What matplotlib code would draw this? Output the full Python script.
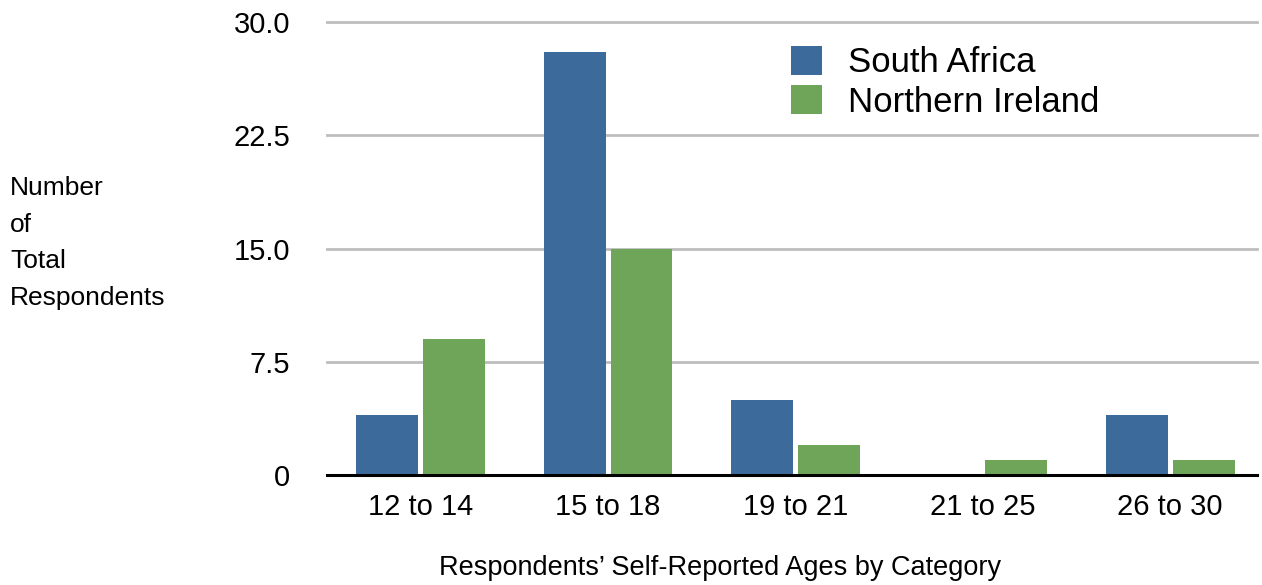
import numpy as np
import matplotlib.pyplot as plt
from matplotlib.ticker import FuncFormatter

plt.rcParams['font.family'] = ['Liberation Sans', 'DejaVu Sans']

age_groups = ['12 to 14', '15 to 18', '19 to 21', '21 to 25', '26 to 30']
south_africa = [4, 28, 5, 0, 4]
northern_ireland = [9, 15, 2, 1, 1]
y_ticks = [0, 7.5, 15.0, 22.5, 30.0]

BLUE = '#3b6a9b'
GREEN = '#6ea558'

fig = plt.figure(figsize=(12.62, 5.85), dpi=100)
ax = fig.add_axes([327 / 1262, 1 - 475 / 585, 930 / 1262, 453 / 585])

x = np.arange(len(age_groups))
width = 0.33
offset = 0.178
ax.bar(x - offset, south_africa, width, color=BLUE, label='South Africa', zorder=3)
ax.bar(x + offset, northern_ireland, width, color=GREEN, label='Northern Ireland', zorder=3)

# slot width is a touch wider than the axes / n_groups, last slot runs off the right edge
ax.set_xlim(-0.5, 4.463)
ax.set_ylim(0, 30)
ax.set_yticks(y_ticks)
ax.yaxis.set_major_formatter(FuncFormatter(lambda v, _: '0' if v == 0 else f'{v:.1f}'))
ax.set_xticks(x)
ax.set_xticklabels(age_groups)

for v in y_ticks[1:]:
    ax.axhline(v, color='#bdbdbd', linewidth=2, zorder=1, clip_on=False)

for side in ['top', 'right', 'left']:
    ax.spines[side].set_visible(False)
ax.spines['bottom'].set_linewidth(2.2)
ax.spines['bottom'].set_color('black')
ax.spines['bottom'].set_zorder(4)

ax.tick_params(axis='both', length=0, labelsize=21, colors='black')
ax.tick_params(axis='y', pad=26.5)
ax.tick_params(axis='x', pad=13)

fig.text(10 / 1262, 1 - 243 / 585, 'Number\nof\nTotal\nRespondents', fontsize=19,
         ha='left', va='center', linespacing=1.68)
fig.text(720 / 1262, 1 - 568 / 585, 'Respondents\u2019 Self-Reported Ages by Category',
         fontsize=19.5, ha='center', va='center')

ax.legend(loc='upper left', bbox_to_anchor=(450 / 930, 0.978), frameon=False,
          fontsize=25, handlelength=0.9, handleheight=0.9, handletextpad=0.75,
          labelspacing=0.18, borderaxespad=0)

fig.savefig('out.png', dpi=100)
